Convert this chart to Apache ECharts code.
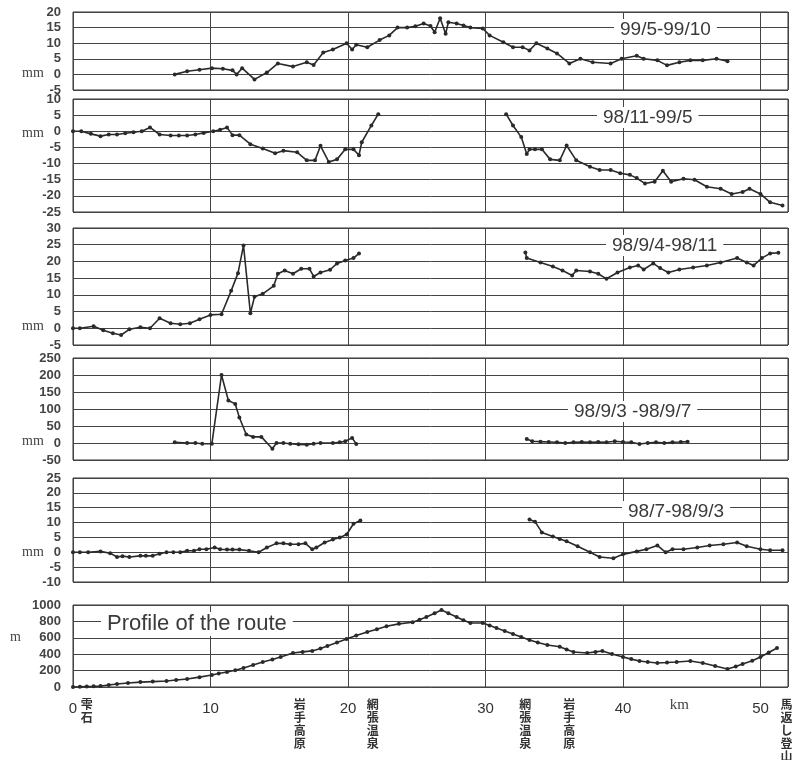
<!DOCTYPE html>
<html>
<head>
<meta charset="utf-8">
<script src="https://cdn.jsdelivr.net/npm/echarts@6/dist/echarts.min.js"></script>
<style>
html,body{margin:0;background:#fff;}
#main{width:793px;height:760px;}
</style>
</head>
<body>
<div id="main"></div>
<script>
// 区间变形 (mm) —— 各期间, x = 距离 km
var p1 = [[7.4,0],[8.3,1],[9.2,1.5],[10.1,2],[10.9,1.8],[11.6,1.3],[11.9,0],[12.3,2],[13.2,-1.6],[14.1,0.6],[14.9,3.5],[16.0,2.5],[17.0,3.9],[17.5,3],[18.2,7],[18.9,8],[19.9,10],[20.3,8],[20.6,9.5],[21.4,8.7],[22.3,11],[23.0,12.5],[23.6,15],[24.3,15],[24.9,15.4],[25.5,16.3],[26.0,15.5],[26.3,13.5],[26.7,18],[27.1,13],[27.3,16.7],[27.9,16.3],[28.4,15.7],[28.9,15],[29.8,14.7],[30.3,12.5],[31.3,10.3],[32.0,8.7],[32.7,8.7],[33.2,7.7],[33.7,10],[34.5,8.3],[35.2,6.7],[36.1,3.5],[36.9,5],[37.8,3.9],[39.1,3.5],[39.9,5],[41.0,6],[41.5,5],[42.5,4.5],[43.2,2.9],[44.1,3.9],[44.9,4.5],[45.8,4.5],[46.8,5],[47.6,4.2]];

var p2West = [[0,0],[0.6,0],[1.3,-0.8],[2.0,-1.5],[2.6,-1],[3.2,-1],[3.8,-0.6],[4.4,-0.3],[5.0,0],[5.6,1.2],[6.3,-1],[7.1,-1.3],[7.7,-1.3],[8.3,-1.3],[8.9,-1],[9.5,-0.5],[10.2,0],[10.7,0.5],[11.2,1.2],[11.6,-1.2],[12.1,-1.2],[12.9,-4],[13.8,-5.3],[14.7,-6.8],[15.3,-6],[16.3,-6.5],[17.0,-9],[17.6,-9],[18.0,-4.5],[18.6,-9.5],[19.2,-8.7],[19.8,-5.6],[20.4,-5.6],[20.8,-7.4],[21.0,-3.4],[21.7,1.8],[22.2,5.3]];
var p2East = [[31.5,5.3],[32.0,1.8],[32.6,-1.8],[33.0,-7],[33.2,-5.6],[33.6,-5.6],[34.1,-5.6],[34.7,-8.7],[35.4,-9],[35.9,-4.4],[36.6,-9],[37.6,-11],[38.3,-12],[39.1,-12],[39.8,-13],[40.5,-13.5],[41.0,-14.5],[41.6,-16.2],[42.3,-15.6],[42.9,-12.2],[43.5,-15.6],[44.4,-14.7],[45.2,-15],[46.1,-17.2],[47.1,-17.8],[47.9,-19.4],[48.7,-18.8],[49.2,-17.8],[50.0,-19.4],[50.7,-22],[51.6,-23]];

var p3West = [[0,0],[0.5,0],[1.5,0.6],[2.2,-0.6],[2.9,-1.5],[3.5,-2],[4.1,-0.3],[4.9,0.3],[5.6,0],[6.3,3],[7.1,1.5],[7.8,1.2],[8.5,1.5],[9.2,2.7],[10.0,4],[10.8,4.2],[11.5,11.2],[12.0,16.5],[12.4,24.8],[12.9,4.5],[13.2,9.4],[13.8,10.3],[14.6,12.7],[14.9,16.3],[15.4,17.3],[16.0,16.3],[16.6,17.8],[17.2,17.8],[17.5,15.5],[18.0,16.7],[18.7,17.5],[19.2,19.4],[19.8,20.3],[20.4,21],[20.8,22.4]];
var p3East = [[32.9,22.7],[33.0,21],[34.0,19.7],[34.9,18.5],[35.6,17.3],[36.3,15.8],[36.6,17.3],[37.6,17],[38.2,16.3],[38.8,14.8],[39.6,16.7],[40.5,18.2],[41.1,18.8],[41.5,17.6],[42.2,19.4],[42.7,18],[43.3,16.7],[44.1,17.6],[45.1,18.2],[46.1,18.8],[47.1,19.7],[48.3,21],[49.0,19.7],[49.5,18.8],[50.1,21],[50.7,22.4],[51.3,22.6]];

var p4West = [[7.4,2],[8.3,0],[8.9,0],[9.4,-2],[10.1,-2],[10.8,200],[11.3,125],[11.8,115],[12.1,75],[12.6,25],[13.1,18],[13.7,18],[14.5,-17],[14.8,0],[15.3,0],[15.8,-2],[16.4,-4],[17.0,-5],[17.5,-2],[18.0,0],[18.9,0],[19.4,2],[19.8,5],[20.3,15],[20.6,-3]];
var p4East = [[33.0,12],[33.4,5],[34.0,4],[34.6,3],[35.2,2],[35.8,0],[36.4,2],[37.0,3],[37.6,2],[38.2,3],[38.8,2],[39.4,5],[40.0,3],[40.6,2],[41.2,-3],[41.8,0],[42.4,2],[43.0,0],[43.6,2],[44.2,3],[44.7,4]];

var p5West = [[0,0],[0.5,0],[1.1,0],[2.0,0.3],[2.7,-0.3],[3.2,-1.6],[3.6,-1.3],[4.1,-1.6],[4.9,-1.2],[5.3,-1.2],[5.8,-1.2],[6.3,-0.5],[6.8,0],[7.3,0],[7.8,0],[8.3,0.5],[8.8,0.5],[9.2,1],[9.7,1],[10.3,1.6],[10.7,1],[11.2,0.9],[11.6,0.9],[12.1,0.9],[12.8,0.5],[13.5,0],[14.1,1.6],[14.8,3],[15.3,3],[15.8,2.7],[16.4,2.7],[16.9,3],[17.4,1],[17.7,1.6],[18.3,3.3],[18.9,4.3],[19.4,5],[19.9,6],[20.4,9.6],[20.9,10.7]];
var p5East = [[33.2,11],[33.6,10.3],[34.1,6.7],[34.9,5.3],[35.4,4.5],[35.9,3.7],[36.7,2],[37.6,0],[38.3,-1.6],[39.3,-2],[40.0,-0.7],[41.0,0.3],[41.7,1],[42.5,2.3],[43.1,0],[43.6,1],[44.4,1],[45.4,1.6],[46.3,2.3],[47.3,2.7],[48.3,3.3],[49.0,2],[50.0,1],[50.7,0.7],[51.6,0.7]];

// 路线断面 (m)
var profile = [[0,0],[0.5,2],[1.0,5],[1.5,8],[2.0,12],[2.6,24],[3.2,36],[4.0,48],[4.9,60],[5.8,66],[6.8,73],[7.5,85],[8.3,97],[9.2,120],[10.1,146],[10.6,165],[11.2,183],[11.8,205],[12.4,232],[13.1,268],[13.8,305],[14.5,336],[15.1,366],[16.0,415],[16.7,428],[17.4,440],[18.0,470],[18.5,500],[19.2,542],[19.9,585],[20.6,628],[21.4,670],[22.1,705],[22.8,740],[23.7,770],[24.7,790],[25.2,820],[25.7,853],[26.3,900],[26.8,940],[27.3,900],[27.9,853],[28.4,815],[28.9,780],[29.8,780],[30.3,750],[30.8,720],[31.4,683],[32.0,646],[32.6,610],[33.2,573],[33.8,543],[34.5,512],[35.4,490],[35.9,458],[36.4,427],[37.4,415],[38.0,428],[38.5,440],[39.2,403],[40.0,366],[40.6,340],[41.2,317],[41.8,305],[42.5,293],[43.2,298],[43.9,305],[44.9,317],[45.8,293],[46.7,256],[47.6,220],[48.2,250],[48.7,280],[49.4,320],[50.0,366],[50.6,420],[51.2,475]];

// 各面板 y 轴刻度
var yMin  = [-5, -25, -5, -50, -10, 0];
var yMax  = [20, 10, 30, 250, 25, 1000];
var yStep = [5, 5, 5, 50, 5, 200];
var yUnit = ['mm','mm','mm','mm','mm','m'];
var periodLabels = ['99/5-99/10','98/11-99/5','98/9/4-98/11','98/9/3 -98/9/7','98/7-98/9/3','Profile of the route'];

var xTicks = [0, 10, 20, 30, 40, 50];
var stationKm = [1.0, 16.5, 21.8, 32.9, 36.1, 44.1, 51.9];
var stationNames = ['雫石','岩手高原','網張温泉','網張温泉','岩手高原','km','馬返し登山口'];

var panelData = [[p1],[p2West,p2East],[p3West,p3East],[p4West,p4East],[p5West,p5East],[profile]];

var dom = document.getElementById('main');
var myChart = echarts.init(dom);

var gridPos = [[12,78],[99,113],[228,117],[358,102],[478,104],[605,82]];
var grids = [], xAxes = [], yAxes = [], series = [], titles = [], graphics = [];

gridPos.forEach(function(g, i){
    grids.push({
        left: 73, right: 5, top: g[0], height: g[1],
        outerBoundsMode: 'none', containLabel: false,
        show: true, borderColor: '#333', borderWidth: 1, backgroundColor: '#fff'
    });
    xAxes.push({
        type: 'value', gridIndex: i, min: 0, max: 52, interval: 10,
        axisLine: {show: false},
        axisTick: {show: false},
        axisLabel: {
            show: i === 5, fontSize: 15, color: '#333', margin: 14,
            fontFamily: 'Liberation Sans',
            formatter: function(v){ return xTicks.indexOf(v) >= 0 ? String(v) : ''; }
        },
        splitLine: {show: true, lineStyle: {color: '#444', width: 1}}
    });
    yAxes.push({
        type: 'value', gridIndex: i, min: yMin[i], max: yMax[i], interval: yStep[i],
        axisLine: {show: false},
        axisTick: {show: false},
        axisLabel: {
            fontSize: 13, color: '#444', margin: 12, fontWeight: 'bold',
            fontFamily: 'Liberation Sans', showMinLabel: true, showMaxLabel: true,
            formatter: function(v){ return String(v); }
        },
        splitLine: {show: true, lineStyle: {color: '#444', width: 1}}
    });
    panelData[i].forEach(function(d){
        series.push({
            type: 'line', xAxisIndex: i, yAxisIndex: i, data: d,
            symbol: 'circle', symbolSize: 4, showAllSymbol: true,
            lineStyle: {color: '#2a2a2a', width: 1.6},
            itemStyle: {color: '#2a2a2a'},
            z: 3
        });
    });
});

// 站名 (竖排)
xAxes.push({
    type: 'value', gridIndex: 5, min: 0, max: 52, position: 'bottom',
    axisLine: {show: false}, axisTick: {show: false}, splitLine: {show: false},
    axisLabel: {
        customValues: stationKm,
        margin: 11, fontSize: 12, lineHeight: 13, color: '#333', fontWeight: 'bold',
        fontFamily: 'Noto Sans CJK JP', verticalAlign: 'top',
        formatter: function(v){
            var k = 0, best = 99;
            stationKm.forEach(function(s, j){ if (Math.abs(s - v) < best){ best = Math.abs(s - v); k = j; } });
            var name = stationNames[k];
            if (name === 'km') return '{km|km}';
            return name.split('').join('\n');
        },
        rich: {km: {fontSize: 15, fontFamily: 'Liberation Serif', fontWeight: 'normal', color: '#444', padding: [1,0,0,0]}}
    }
});

var titlePos = [[614,19],[597,107],[606,235],[568,401],[622,501],[101,612]];
periodLabels.forEach(function(t, i){
    titles.push({
        text: t, left: titlePos[i][0], top: titlePos[i][1],
        backgroundColor: '#fff', padding: [1,6],
        textStyle: {fontSize: i === 5 ? 22 : 19, fontWeight: 'normal', color: '#3a3a3a', fontFamily: 'Liberation Sans'}
    });
});

var unitY = [74, 134, 327, 442, 553, 638];
yUnit.forEach(function(u, i){
    graphics.push({
        type: 'text', left: i === 5 ? 10 : 22, top: unitY[i] - 8,
        style: {text: u, fontSize: 14, fill: '#444', fontFamily: 'Liberation Serif'}
    });
});

myChart.setOption({
    animation: false,
    backgroundColor: '#fff',
    title: titles,
    grid: grids,
    xAxis: xAxes,
    yAxis: yAxes,
    series: series,
    graphic: graphics
});
window.addEventListener('resize', function(){ myChart.resize(); });
</script>
</body>
</html>
